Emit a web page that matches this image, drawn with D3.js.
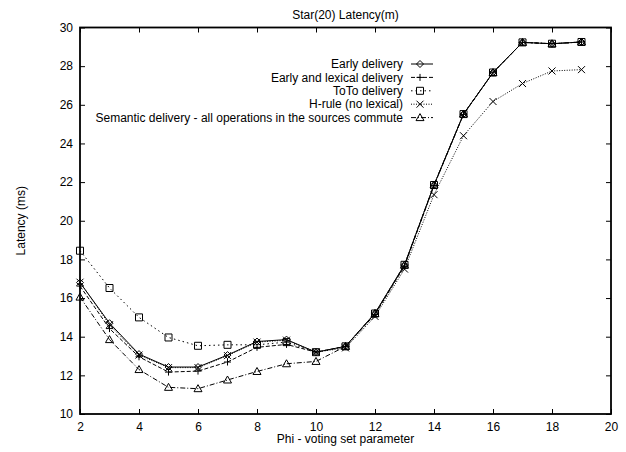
<!DOCTYPE html>
<html><head><meta charset="utf-8">
<script src="https://cdnjs.cloudflare.com/ajax/libs/d3/7.8.5/d3.min.js"></script>
<style>body{margin:0;background:#fff}svg{display:block}text{font-family:"Liberation Sans",Arial,sans-serif;font-size:12px;fill:#000}</style>
</head><body><svg id="c" width="626" height="452"></svg>
<script>
const xs = [2,3,4,5,6,7,8,9,10,11,12,13,14,15,16,17,18,19];
const early    = [16.8,14.7,13.1,12.43,12.43,13.05,13.75,13.85,13.2,13.5,15.22,17.72,21.85,25.52,27.67,29.23,29.16,29.25];
const lexical  = [16.62,14.42,12.96,12.17,12.22,12.69,13.45,13.6,13.2,13.5,15.15,17.65,21.82,25.5,27.66,29.23,29.16,29.25];
const toto     = [18.45,16.52,15.0,13.96,13.53,13.58,13.58,13.72,13.2,13.5,15.2,17.72,21.85,25.52,27.67,29.23,29.16,29.25];
const hrule    = [16.82,14.62,13.05,12.4,12.4,13.02,13.72,13.82,13.2,13.42,15.05,17.5,21.35,24.4,26.17,27.1,27.75,27.82];
const semantic = [16.05,13.85,12.3,11.38,11.31,11.76,12.2,12.6,12.72,13.5,15.2,17.7,21.85,25.52,27.67,29.23,29.16,29.25];
const seriesNames = ["Early delivery","Early and lexical delivery","ToTo delivery","H-rule (no lexical)","Semantic delivery - all operations in the sources commute"];
const xTicks = [2,4,6,8,10,12,14,16,18,20];
const yTicks = [10,12,14,16,18,20,22,24,26,28,30];
const title = "Star(20) Latency(m)";
const xTitle = "Phi - voting set parameter";
const yTitle = "Latency (ms)";

const L=80,R=611,T=27.5,B=414;
const svg=d3.select("#c");
const x=d3.scaleLinear().domain([2,20]).range([L,R]);
const y=d3.scaleLinear().domain([10,30]).range([B,T]);

const series=[
 {name:seriesNames[0],vals:early,dash:null,mk:"diamond"},
 {name:seriesNames[1],vals:lexical,dash:"4,2",mk:"plus"},
 {name:seriesNames[2],vals:toto,dash:"1.5,3",mk:"square"},
 {name:seriesNames[3],vals:hrule,dash:"1,1.5",mk:"cross"},
 {name:seriesNames[4],vals:semantic,dash:"5,2,1,2",mk:"triangle"}
];

function marker(g,type,cx,cy){
  const s=3.5;
  let p;
  if(type==="diamond") p=`M${cx},${cy-s}L${cx+s},${cy}L${cx},${cy+s}L${cx-s},${cy}Z`;
  else if(type==="plus") p=`M${cx-s},${cy}H${cx+s}M${cx},${cy-s}V${cy+s}`;
  else if(type==="square") p=`M${cx-s},${cy-s}H${cx+s}V${cy+s}H${cx-s}Z`;
  else if(type==="cross") p=`M${cx-s},${cy-s}L${cx+s},${cy+s}M${cx-s},${cy+s}L${cx+s},${cy-s}`;
  else p=`M${cx},${cy-s-0.5}L${cx+s+0.5},${cy+s-0.5}L${cx-s-0.5},${cy+s-0.5}Z`;
  g.append("path").attr("d",p).attr("fill","none").attr("stroke","#000").attr("stroke-width",1);
}

const gx=svg.append("g").attr("transform",`translate(0,${B})`)
 .call(d3.axisBottom(x).tickValues(xTicks).tickSizeInner(-5).tickSizeOuter(0).tickPadding(8));
const gxt=svg.append("g").attr("transform",`translate(0,${T})`)
 .call(d3.axisTop(x).tickValues(xTicks).tickSizeInner(-5).tickSizeOuter(0).tickFormat(""));
const gy=svg.append("g").attr("transform",`translate(${L},0)`)
 .call(d3.axisLeft(y).tickValues(yTicks).tickSizeInner(-5).tickSizeOuter(0).tickPadding(7));
const gyr=svg.append("g").attr("transform",`translate(${R},0)`)
 .call(d3.axisRight(y).tickValues(yTicks).tickSizeInner(-5).tickSizeOuter(0).tickFormat(""));
[gx,gxt,gy,gyr].forEach(g=>{g.select(".domain").remove();g.selectAll("line").attr("stroke","#000").attr("stroke-width",1);
 g.selectAll("text").attr("font-family","Liberation Sans, Arial, sans-serif").attr("font-size",12).attr("fill","#000");});
svg.append("rect").attr("x",L).attr("y",T).attr("width",R-L).attr("height",B-T)
 .attr("fill","none").attr("stroke","#000").attr("stroke-width",1.8);

const line=d3.line().x(d=>x(d[0])).y(d=>y(d[1]));
series.forEach(s=>{
  const pts=xs.map((v,i)=>[v,s.vals[i]]);
  svg.append("path").datum(pts).attr("d",line).attr("fill","none").attr("stroke","#000")
   .attr("stroke-width",1).attr("stroke-dasharray",s.dash);
  const g=svg.append("g");
  pts.forEach(p=>marker(g,s.mk,x(p[0]),y(p[1])));
});

series.forEach((s,i)=>{
  const ly=64+i*13.4;
  svg.append("text").attr("x",403).attr("y",ly).attr("dy","0.35em").attr("text-anchor","end")
   .attr("font-size",11.6).text(s.name);
  svg.append("line").attr("x1",411).attr("x2",433).attr("y1",ly).attr("y2",ly)
   .attr("stroke","#000").attr("stroke-width",1).attr("stroke-dasharray",s.dash);
  marker(svg.append("g"),s.mk,420,ly);
});

svg.append("text").attr("x",(L+R)/2).attr("y",15).attr("dy","0.35em").attr("text-anchor","middle").text(title);
svg.append("text").attr("x",(L+R)/2).attr("y",439).attr("dy","0.35em").attr("text-anchor","middle").text(xTitle);
svg.append("text").attr("transform",`translate(21,${(T+B)/2}) rotate(-90)`).attr("dy","0.35em").attr("text-anchor","middle").text(yTitle);
</script></body></html>
